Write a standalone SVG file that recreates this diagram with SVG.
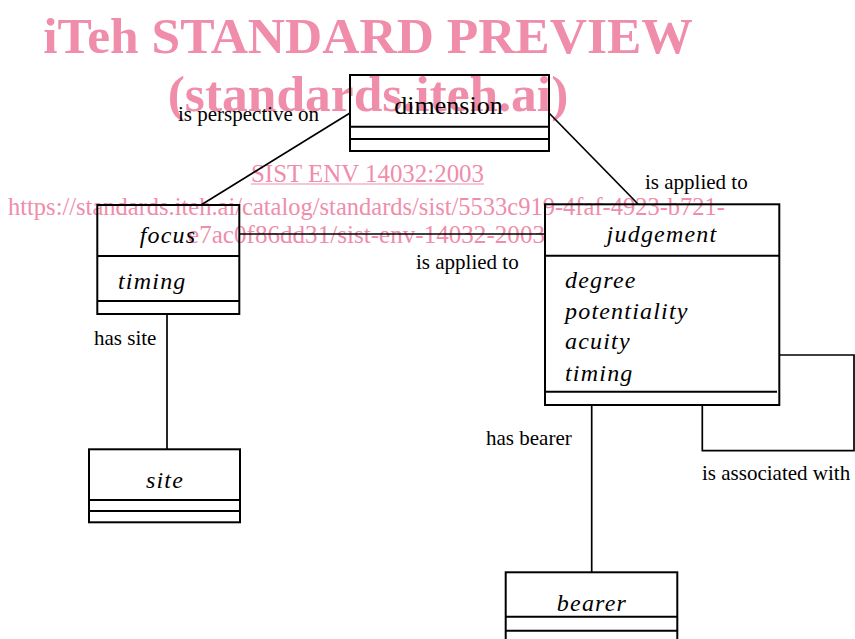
<svg xmlns="http://www.w3.org/2000/svg" width="855" height="639" viewBox="0 0 855 639">
<style>
.wm{font-family:"Liberation Serif","Times New Roman",serif;fill:#ef8dab;text-anchor:middle}
.wmb{font-weight:bold;font-size:51.5px}
.wms{font-size:24.5px}
.box{fill:none;stroke:#000;stroke-width:2}
.conn{fill:none;stroke:#000;stroke-width:1.7}
.lbl{font-family:"Liberation Serif","Times New Roman",serif;font-size:21px;fill:#000}
.name{font-family:"Liberation Serif","Times New Roman",serif;font-size:24px;font-style:italic;letter-spacing:1.2px;fill:#000}
.attr{font-family:"Liberation Serif","Times New Roman",serif;font-size:24px;font-style:italic;letter-spacing:1.2px;fill:#000}
</style>
<rect width="855" height="639" fill="#fff"/>
<g id="watermark">
<text class="wm wmb" x="368" y="52.5">iTeh STANDARD PREVIEW</text>
<text class="wm wmb" x="368" y="111">(standards.iteh.ai)</text>
<text class="wm wms" x="367.5" y="182" textLength="233" lengthAdjust="spacingAndGlyphs">SIST ENV 14032:2003</text>
<line x1="251" y1="184" x2="484" y2="184" stroke="#ef8dab" stroke-width="1.2"/>
<text class="wm wms" x="366.5" y="215" textLength="717" lengthAdjust="spacingAndGlyphs">https://standards.iteh.ai/catalog/standards/sist/5533c919-4faf-4923-b721-</text>
<text class="wm wms" x="366.5" y="243" textLength="357" lengthAdjust="spacingAndGlyphs">e7ac0f86dd31/sist-env-14032-2003</text>
</g>
<g id="connectors">
<line class="conn" x1="350" y1="113" x2="201" y2="205"/>
<line class="conn" x1="549" y1="113" x2="638" y2="204"/>
<line class="conn" x1="239.3" y1="234" x2="545" y2="234"/>
<line class="conn" x1="167" y1="314" x2="167" y2="449.3"/>
<line class="conn" x1="591.7" y1="405" x2="591.7" y2="572.3"/>
<polyline class="conn" points="779,355 854,355 854,450.7 702.3,450.7 702.3,405"/>
<text class="lbl" x="178" y="121">is perspective on</text>
<text class="lbl" x="645" y="189">is applied to</text>
<text class="lbl" x="416" y="269">is applied to</text>
<text class="lbl" x="94" y="345">has site</text>
<text class="lbl" x="486" y="445">has bearer</text>
<text class="lbl" x="702" y="479.5">is associated with</text>
</g>
<g id="dimension">
<rect class="box" x="350" y="75" width="199" height="76"/>
<line class="box" x1="350" y1="126.7" x2="549" y2="126.7"/>
<line class="box" x1="350" y1="139" x2="549" y2="139"/>
<text x="448.5" y="114" font-family="Liberation Serif, Times New Roman, serif" font-size="26" text-anchor="middle">dimension</text>
</g>
<g id="focus">
<rect class="box" x="97.3" y="205" width="142" height="109"/>
<line class="box" x1="97.3" y1="256" x2="239.3" y2="256"/>
<line class="box" x1="97.3" y1="301" x2="239.3" y2="301"/>
<text class="name" x="168" y="243" text-anchor="middle">focus</text>
<text class="attr" x="118" y="289">timing</text>
</g>
<g id="judgement">
<rect class="box" x="545" y="204.3" width="234.3" height="200.7"/>
<line class="box" x1="545" y1="255.7" x2="779.3" y2="255.7"/>
<line class="box" x1="545" y1="391.7" x2="777" y2="391.7"/>
<text class="name" x="662" y="242" text-anchor="middle">judgement</text>
<text class="attr" x="565" y="288">degree</text>
<text class="attr" x="565" y="318.5">potentiality</text>
<text class="attr" x="565" y="349">acuity</text>
<text class="attr" x="565" y="380.5">timing</text>
</g>
<g id="site">
<rect class="box" x="89" y="449.3" width="151" height="73"/>
<line class="box" x1="89" y1="500" x2="240" y2="500"/>
<line class="box" x1="89" y1="511" x2="240" y2="511"/>
<text class="name" x="165" y="487.5" text-anchor="middle">site</text>
</g>
<g id="bearer">
<rect class="box" x="505.7" y="572.3" width="171.6" height="90"/>
<line class="box" x1="505.7" y1="616.7" x2="677.3" y2="616.7"/>
<line class="box" x1="505.7" y1="630.7" x2="677.3" y2="630.7"/>
<text class="name" x="592" y="610.5" text-anchor="middle">bearer</text>
</g>
</svg>
